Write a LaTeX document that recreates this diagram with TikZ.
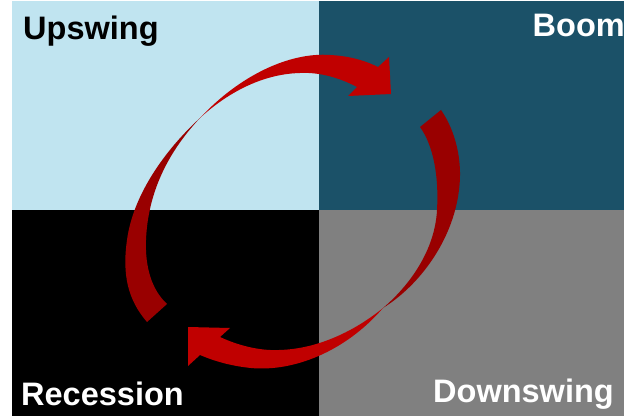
\documentclass[tikz,border=0pt]{standalone}
\usepackage{fontspec}
\setmainfont{Liberation Sans}
\definecolor{upc}{RGB}{192,228,240}
\definecolor{boomc}{RGB}{27,81,104}
\definecolor{downc}{RGB}{128,128,128}
\definecolor{frontred}{RGB}{192,0,0}
\definecolor{backred}{RGB}{153,0,0}
\begin{document}
\begin{tikzpicture}[x=1pt,y=-1pt,
  lbl/.style={font=\bfseries\fontsize{32.5}{32.5}\selectfont, inner sep=0pt}]
\useasboundingbox (0,0) rectangle (631,419);
\fill[white] (0,0) rectangle (631,419);
% quadrants
\fill[upc] (12,1) rectangle (319,210);
\fill[boomc] (319,1) rectangle (624,210);
\fill[black] (12,210) rectangle (319,416);
\fill[downc] (319,210) rectangle (624,416);
% left arc (back)
\fill[backred] (147,322) .. controls (128,300) and (122,275) .. (127,240)
  .. controls (133,195) and (165,150) .. (200,118)
  .. controls (170,150) and (148,190) .. (146,240)
  .. controls (145,268) and (152,290) .. (167,304) -- cycle;
% top arc (front) with head
\fill[frontred] (200,118) .. controls (240,75) and (290,52) .. (330,55)
  .. controls (350,56) and (366,61) .. (378,67)
  -- (389,57) -- (391,94) -- (348,96) -- (357,87)
  .. controls (340,78) and (320,72) .. (300,73)
  .. controls (260,74) and (225,95) .. (200,118) -- cycle;
% right arc (back)
\fill[backred] (441,110) .. controls (455,130) and (463,160) .. (459,190)
  .. controls (453,240) and (420,285) .. (383,308)
  .. controls (410,285) and (435,250) .. (437,210)
  .. controls (439,175) and (433,145) .. (420,127) -- cycle;
% bottom arc (front) with head
\fill[frontred] (383,308) .. controls (345,352) and (293,372) .. (251,368)
  .. controls (231,366) and (214,361) .. (200,355)
  -- (188,366) -- (188,327) -- (230,328) -- (220,337)
  .. controls (237,345) and (259,351) .. (279,350)
  .. controls (319,349) and (356,330) .. (383,308) -- cycle;
% labels
\node[lbl, text=black, anchor=base west] (up) at (23,40) {Upswing};
\node[lbl, text=white, anchor=base east] (boom) at (625,37) {Boom};
\node[lbl, text=white, anchor=base west] (rec) at (21,405) {Recession};
\node[lbl, text=white, anchor=base west] (down) at (433,402) {Downswing};
\end{tikzpicture}
\end{document}
